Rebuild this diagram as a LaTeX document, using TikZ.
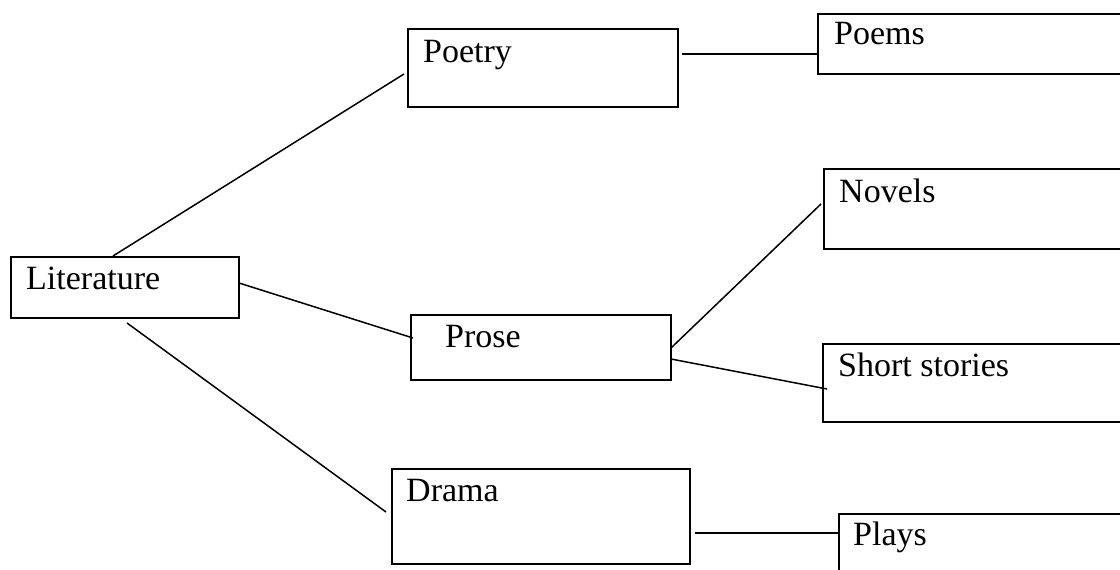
\documentclass[tikz,border=0pt]{standalone}
\usepackage{fontspec}
\setmainfont{Liberation Serif}
\usetikzlibrary{calc}
\begin{document}
\begin{tikzpicture}[x=1pt,y=-1pt,
  box/.style={draw, line width=2pt, inner sep=0pt, outer sep=0pt, anchor=north west},
  lbl/.style={inner sep=0pt, anchor=base west, font=\fontsize{34}{40}\selectfont},
  conn/.style={line width=1.5pt}]
\useasboundingbox (0,0) rectangle (1120,570);
\clip (0,0) rectangle (1120,570);
% boxes
\node[box, minimum width=228pt, minimum height=61pt] (lit) at (11,257) {};
\node[box, minimum width=270pt, minimum height=78pt] (poetry) at (408,29) {};
\node[box, minimum width=330pt, minimum height=60pt] (poems) at (818,14) {};
\node[box, minimum width=260pt, minimum height=65pt] (prose) at (411,315) {};
\node[box, minimum width=330pt, minimum height=80pt] (novels) at (824,169) {};
\node[box, minimum width=330pt, minimum height=78pt] (short) at (823,344) {};
\node[box, minimum width=298pt, minimum height=95pt] (drama) at (392,469) {};
\node[box, minimum width=330pt, minimum height=80pt] (plays) at (839,514) {};
% labels
\node[lbl] (tlit) at ($(lit.north west)+(15,32)$) {Literature};
\node[lbl] (tpoetry) at ($(poetry.north west)+(15,33)$) {Poetry};
\node[lbl] (tpoems) at ($(poems.north west)+(16,31)$) {Poems};
\node[lbl] (tprose) at ($(prose.north west)+(34,32)$) {Prose};
\node[lbl] (tnovels) at ($(novels.north west)+(15,33)$) {Novels};
\node[lbl] (tshort) at ($(short.north west)+(15,32)$) {Short stories};
\node[lbl] (tdrama) at ($(drama.north west)+(14,32)$) {Drama};
\node[lbl] (tplays) at ($(plays.north west)+(14,31)$) {Plays};
% connectors
\draw[conn] ($(lit.north west)+(102,-1)$) -- ($(poetry.north west)+(-4,45)$);
\draw[conn] ($(lit.north east)+(0,26)$) -- ($(prose.north west)+(2,23)$);
\draw[conn] ($(lit.south west)+(116,5)$) -- ($(drama.north west)+(-6,43)$);
\draw[conn] ($(poetry.north east)+(4,25)$) -- ($(poems.north west)+(0,40)$);
\draw[conn] ($(prose.north east)+(0,33)$) -- ($(novels.north west)+(-3,35)$);
\draw[conn] ($(prose.north east)+(0,44)$) -- ($(short.north west)+(4,45)$);
\draw[conn] ($(drama.north east)+(5,64)$) -- ($(plays.north west)+(0,19)$);
\end{tikzpicture}
\end{document}
